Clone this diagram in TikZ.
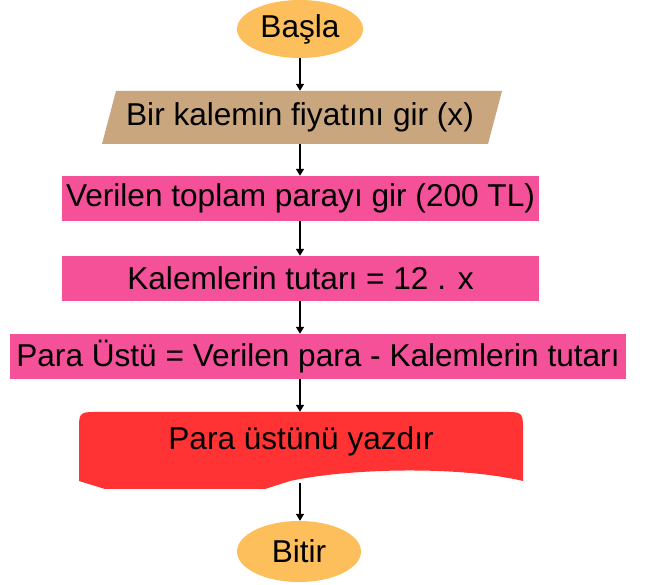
\documentclass[tikz,border=0pt]{standalone}
\usepackage{fontspec}
\setmainfont{Liberation Sans}
\usetikzlibrary{shapes.geometric,arrows.meta}
\definecolor{startc}{RGB}{253,190,92}
\definecolor{inputc}{RGB}{201,166,126}
\definecolor{procc}{RGB}{244,81,153}
\definecolor{docc}{RGB}{255,51,51}
\begin{document}
\begin{tikzpicture}[x=1pt,y=-1pt,
  every node/.style={font=\fontsize{31.6}{37}\selectfont, inner sep=0pt},
  term/.style={ellipse, fill=startc, minimum width=126pt, minimum height=58pt},
  proc/.style={rectangle, fill=procc, minimum height=45pt},
  plain/.style={rectangle},
  arr/.style={line width=1.3pt, -{Triangle[width=8pt,length=7pt]}}]
\useasboundingbox (0,0) rectangle (646,585);
% input parallelogram
\fill[inputc] (102,144) -- (116,91) -- (502,91) -- (488,144) -- cycle;
% document shape
\fill[docc] (79,481) -- (79,426) .. controls (79,414) and (81,412) .. (93,412)
  -- (509,412) .. controls (521,412) and (523,414) .. (523,426)
  -- (523,481) .. controls (460,466) and (350,468) .. (290,481)
  -- (265,489) -- (105,489) -- cycle;
% nodes
\node[term] (start) at (300,29) {Başla};
\node[plain, minimum width=386pt, minimum height=53pt] (input) at (300,117.5) {Bir kalemin fiyatını gir (x)};
\node[proc, minimum width=477pt] (verilen) at (300.5,198.5) {Verilen toplam parayı gir (200 TL)};
\node[proc, minimum width=477pt] (kalem) at (300.5,278.5) {Kalemlerin tutarı = 12 . x};
\node[proc, minimum width=616pt] (para) at (318,356.5) {Para Üstü = Verilen para - Kalemlerin tutarı};
\node[plain, minimum width=444pt, minimum height=58pt] (doc) at (301,441) {Para üstünü yazdır};
\coordinate (docb) at (300,483);
\node[term, minimum width=124pt, minimum height=61pt] (end) at (299,551.5) {Bitir};
% connectors
\draw[arr] (start.south) -- (start.south |- input.north);
\draw[arr] (input.south) -- (input.south |- verilen.north);
\draw[arr] (input.south |- verilen.south) -- (input.south |- kalem.north);
\draw[arr] (input.south |- kalem.south) -- (input.south |- para.north);
\draw[arr] (input.south |- para.south) -- (input.south |- doc.north);
\draw[arr] (docb) -- (docb |- end.north);
\end{tikzpicture}
\end{document}
